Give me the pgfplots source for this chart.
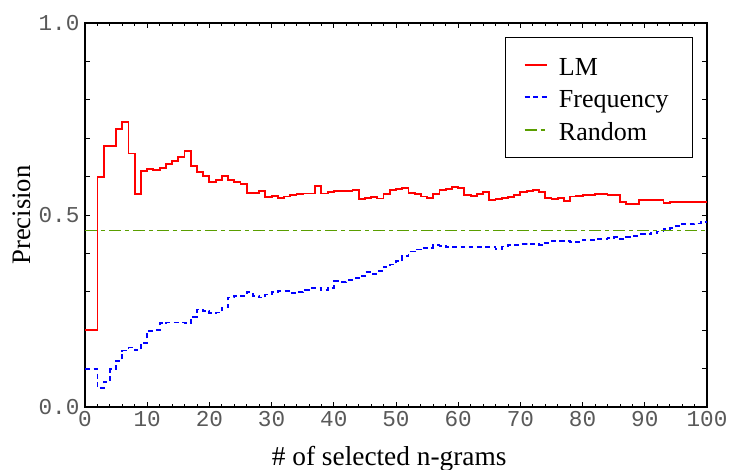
\documentclass[border=0pt]{standalone}
\usepackage{fontspec}
\setmainfont{Liberation Serif}
\setmonofont{Liberation Mono}
\usepackage{pgfplots}
\pgfplotsset{compat=1.18}
\definecolor{lmred}{HTML}{FF0000}
\definecolor{frqblue}{HTML}{0000FF}
\definecolor{rndgreen}{HTML}{5A9E00}

\pgfplotstableread{
x lm freq
0 0.200 0.099
1 0.200 0.099
2 0.600 0.049
3 0.680 0.066
4 0.680 0.098
5 0.725 0.120
6 0.743 0.147
7 0.660 0.155
8 0.554 0.148
9 0.615 0.166
10 0.620 0.198
11 0.617 0.200
12 0.623 0.218
13 0.632 0.220
14 0.640 0.220
15 0.650 0.220
16 0.667 0.218
17 0.628 0.235
18 0.613 0.254
19 0.601 0.250
20 0.585 0.244
21 0.591 0.246
22 0.601 0.259
23 0.591 0.285
24 0.587 0.290
25 0.581 0.290
26 0.557 0.299
27 0.557 0.290
28 0.563 0.285
29 0.546 0.293
30 0.549 0.299
31 0.544 0.302
32 0.548 0.302
33 0.551 0.296
34 0.555 0.300
35 0.556 0.305
36 0.556 0.310
37 0.576 0.310
38 0.556 0.304
39 0.560 0.311
40 0.562 0.328
41 0.562 0.326
42 0.563 0.331
43 0.566 0.335
44 0.542 0.341
45 0.544 0.352
46 0.546 0.347
47 0.543 0.354
48 0.555 0.365
49 0.565 0.371
50 0.568 0.380
51 0.570 0.393
52 0.557 0.405
53 0.555 0.410
54 0.548 0.415
55 0.544 0.415
56 0.555 0.422
57 0.565 0.420
58 0.567 0.416
59 0.572 0.416
60 0.570 0.416
61 0.552 0.417
62 0.550 0.416
63 0.555 0.416
64 0.559 0.416
65 0.539 0.416
66 0.541 0.412
67 0.544 0.418
68 0.546 0.422
69 0.553 0.422
70 0.559 0.425
71 0.562 0.425
72 0.565 0.424
73 0.560 0.422
74 0.544 0.428
75 0.542 0.432
76 0.544 0.432
77 0.536 0.432
78 0.548 0.429
79 0.550 0.429
80 0.552 0.435
81 0.553 0.435
82 0.555 0.438
83 0.555 0.438
84 0.552 0.441
85 0.551 0.443
86 0.534 0.438
87 0.528 0.442
88 0.528 0.446
89 0.540 0.450
90 0.540 0.450
91 0.538 0.454
92 0.538 0.457
93 0.532 0.463
94 0.533 0.467
95 0.533 0.471
96 0.534 0.476
97 0.534 0.476
98 0.534 0.478
99 0.534 0.482
100 0.534 0.482
}\precdata

\begin{document}
\begin{tikzpicture}
\begin{axis}[
  at={(0,0)},anchor=south west,
  scale only axis,width=466.5pt,height=288pt,
  xmin=0,xmax=100,ymin=0,ymax=1,
  axis line style={line width=0.8pt},
  xtick={0,10,...,100},
  xticklabels={0,10,20,30,40,50,60,70,80,90,100},
  minor x tick num=4,
  ytick={0,0.1,...,1.0},
  yticklabels={0.0,,,,,0.5,,,,,1.0},
  major tick length=3.75pt,minor tick length=2pt,
  tick style={black,line width=0.6pt},
  tick label style={font=\ttfamily\fontsize{17}{20}\selectfont,text=black!65},
  xticklabel style={anchor=north,inner sep=0pt,yshift=-3pt},
  yticklabel style={anchor=east,inner sep=0pt,xshift=-4pt},
  xlabel={\# of selected n-grams},ylabel={Precision},
  every axis x label/.style={at={(axis description cs:0.489,-0.1536)},anchor=base,
    font=\fontsize{20.5}{24}\selectfont},
  every axis y label/.style={at={(axis description cs:-0.101,0.5)},rotate=90,anchor=center,
    font=\fontsize{20}{24}\selectfont},
  legend style={at={(rel axis cs:0.9775,0.9635)},anchor=north east,
    draw=black,inner xsep=14pt,inner ysep=8.4pt,
    font=\fontsize{19.5}{24}\selectfont,row sep=0pt,column sep=4pt,
    nodes={text height=18.1pt,text depth=2.3pt,inner ysep=2pt,inner xsep=4pt}},
  legend cell align=left,
]
\addplot[const plot,lmred,line width=1.4pt] table[x=x,y=lm] {\precdata};
\addlegendentry{LM}
\addplot[const plot,frqblue,line width=1.4pt,dash pattern=on 3.8pt off 2.6pt] table[x=x,y=freq] {\precdata};
\addlegendentry{Frequency}
\addplot[rndgreen,line width=1.2pt,dash pattern=on 9pt off 3pt on 3pt off 3pt] coordinates {(0,0.46) (100,0.46)};
\addlegendentry{Random}
\end{axis}
\pgfresetboundingbox
\path[use as bounding box] (-63.75pt,-47.25pt) rectangle (483pt,305.25pt);
\end{tikzpicture}
\end{document}
